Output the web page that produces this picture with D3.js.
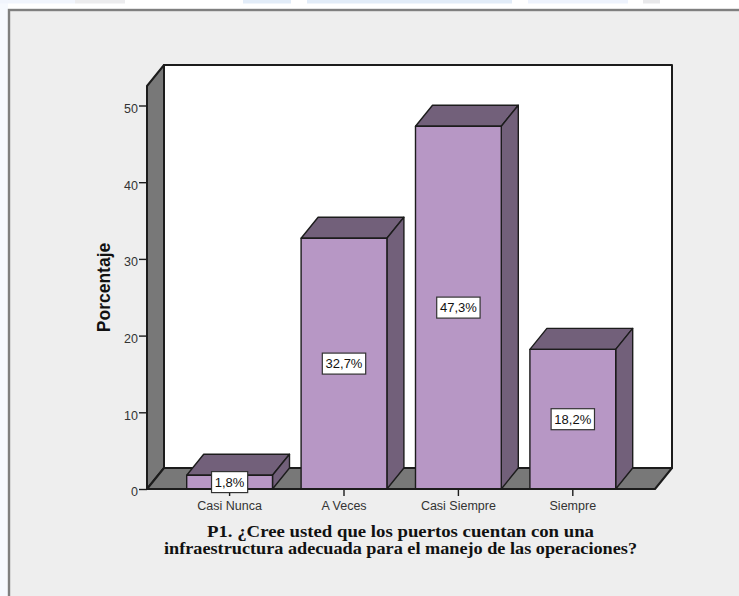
<!DOCTYPE html>
<html lang="es">
<head>
<meta charset="utf-8">
<title>P1</title>
<script src="https://cdn.jsdelivr.net/npm/d3@7"></script>
<style>
  html, body { margin: 0; padding: 0; background: #fff; }
  svg { display: block; }
  text { font-family: "Liberation Sans", Arial, sans-serif; }
</style>
</head>
<body>
<div id="chart"></div>
<script>
// Survey answers for question P1, as percentages.
const categories = ["Casi Nunca", "A Veces", "Casi Siempre", "Siempre"];
const percentages = [1.8, 32.7, 47.3, 18.2];
const percentLabels = ["1,8%", "32,7%", "47,3%", "18,2%"];
const yTicks = [0, 10, 20, 30, 40, 50];
const titleLines = [
  "P1. ¿Cree usted que los puertos cuentan con una",
  "infraestructura adecuada para el manejo de las operaciones?"
];

const width = 739, height = 596;
const depthX = 17, depthY = -21;            // oblique offset of the 3D box
const plot = { left: 147, right: 655, bottom: 489, top: 86 };
const titleWidths = [387, 473];

const colors = {
  panel: "#eeeeee", frame: "#7f7f7f", wall: "#787878", back: "#ffffff",
  front: "#b797c5", dark: "#72607a", line: "#1c1c1c", tick: "#333333"
};

const svg = d3.select("#chart").append("svg")
  .attr("width", width).attr("height", height);

// Page backdrop: tinted margin and the pale band along the top edge
svg.append("rect").attr("width", 8).attr("height", height).attr("fill", "#f6f9fe");
const topBand = [
  [0, 75, "#f1f5fd"], [75, 50, "#ececee"], [243, 48, "#e2ecf8"],
  [307, 205, "#e2ecf8"], [528, 100, "#eef3fd"], [643, 17, "#e8e8ea"]
];
svg.append("g").selectAll("rect").data(topBand).join("rect")
  .attr("x", d => d[0]).attr("y", 0).attr("width", d => d[1]).attr("height", 3.5)
  .attr("fill", d => d[2]);

// Outer frame of the chart output
svg.append("rect")
  .attr("x", 9).attr("y", 10).attr("width", width + 20).attr("height", height + 20)
  .attr("fill", colors.panel).attr("stroke", colors.frame).attr("stroke-width", 2.4);

const y = d3.scaleLinear().domain([0, 50]).range([plot.bottom, 105.5]);
const x = d3.scaleBand().domain(categories).range([186.7, 615.7])
  .paddingInner(0.25).paddingOuter(0);

const poly = (pts, fill, sw = 1.4) => svg.append("polygon")
  .attr("points", pts.map(p => p.join(",")).join(" "))
  .attr("fill", fill).attr("stroke", colors.line)
  .attr("stroke-width", sw).attr("stroke-linejoin", "round");

// Back wall, left wall and floor of the box
const { left: L, right: R, bottom: B, top: T } = plot;
poly([[L + depthX, T + depthY], [R + depthX, T + depthY], [R + depthX, B + depthY], [L + depthX, B + depthY]], colors.back, 2);
poly([[L, T], [L + depthX, T + depthY], [L + depthX, B + depthY], [L, B]], colors.wall, 2);
poly([[L, B], [L + depthX, B + depthY], [R + depthX, B + depthY], [R, B]], colors.wall, 2);

// Value axis
const yAxis = svg.append("g").attr("transform", `translate(${L},0)`)
  .call(d3.axisLeft(y).tickValues(yTicks).tickSize(8).tickPadding(1).tickFormat(d3.format("d")));
yAxis.select(".domain").remove();
yAxis.selectAll("line").attr("stroke", colors.line).attr("stroke-width", 1.4);
yAxis.selectAll("text").attr("font-size", 12.5).attr("fill", colors.tick).attr("dy", "0.55em")
  .style("font-family", '"Liberation Sans", Arial, sans-serif');

// Category axis
const xAxis = svg.append("g").attr("transform", `translate(0,${B})`)
  .call(d3.axisBottom(x).tickSize(7).tickPadding(5));
xAxis.select(".domain").remove();
xAxis.selectAll("line").attr("stroke", colors.line).attr("stroke-width", 1.4);
xAxis.selectAll("text").attr("font-size", 12.5).attr("fill", colors.tick)
  .style("font-family", '"Liberation Sans", Arial, sans-serif');

// Bars: front face, lit top and shaded side
categories.forEach((c, i) => {
  const x0 = x(c), x1 = x0 + x.bandwidth(), yt = y(percentages[i]);
  poly([[x0, yt], [x0 + depthX, yt + depthY], [x1 + depthX, yt + depthY], [x1, yt]], colors.dark);
  poly([[x1, yt], [x1 + depthX, yt + depthY], [x1 + depthX, B + depthY], [x1, B]], colors.dark);
  poly([[x0, yt], [x1, yt], [x1, B], [x0, B]], colors.front);
});

// Baseline across the front of the floor
svg.append("line").attr("x1", L).attr("x2", R).attr("y1", B).attr("y2", B)
  .attr("stroke", colors.line).attr("stroke-width", 2);

// Boxed percentage labels centred on each bar's front face
categories.forEach((c, i) => {
  const cx = x(c) + x.bandwidth() / 2, cy = y(percentages[i] / 2);
  const g = svg.append("g");
  const t = g.append("text").attr("x", cx).attr("y", cy + 4.5)
    .attr("text-anchor", "middle").attr("font-size", 13).attr("fill", "#111")
    .text(percentLabels[i]);
  const w = t.node().getComputedTextLength() + 6.5;
  g.insert("rect", "text").attr("x", cx - w / 2).attr("y", cy - 10.5)
    .attr("width", w).attr("height", 21)
    .attr("fill", "#fff").attr("stroke", "#333").attr("stroke-width", 1.2);
});

// Axis titles
svg.append("text")
  .attr("transform", "translate(110,287.5) rotate(-90)")
  .attr("text-anchor", "middle").attr("font-size", 17.5).attr("font-weight", "bold")
  .attr("fill", "#111").text("Porcentaje");

svg.append("g").selectAll("text").data(titleLines).join("text")
  .attr("x", 400.5).attr("y", (d, i) => 536.5 + i * 17.5)
  .attr("text-anchor", "middle").attr("font-size", 16).attr("font-weight", "bold")
  .attr("textLength", (d, i) => titleWidths[i]).attr("lengthAdjust", "spacingAndGlyphs")
  .attr("fill", "#111").style("font-family", '"Liberation Serif", "Times New Roman", serif')
  .text(d => d);
</script>
</body>
</html>
